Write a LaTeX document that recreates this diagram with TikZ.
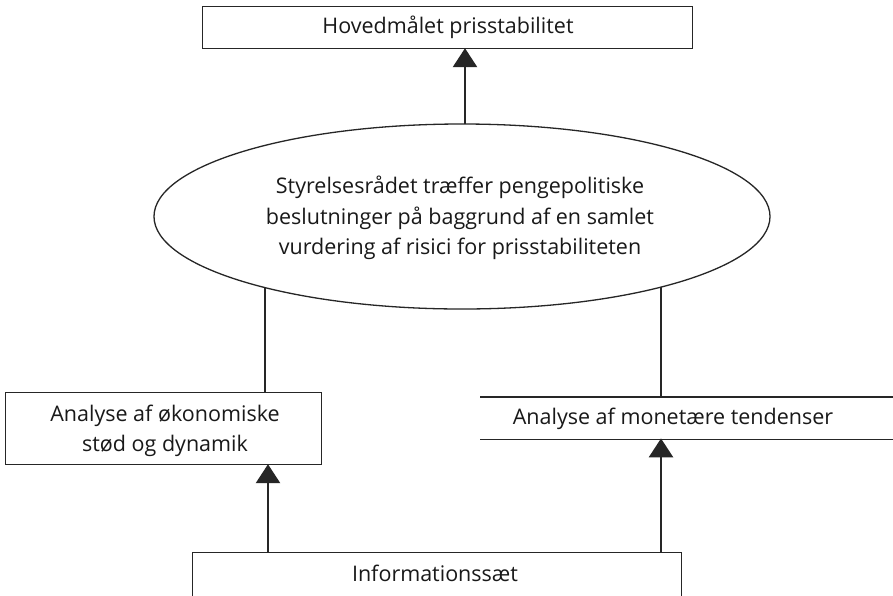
\documentclass[tikz,border=0pt]{standalone}
\usepackage{fontspec}
\setmainfont{Open Sans}
\usetikzlibrary{arrows.meta}
\begin{document}
\begin{tikzpicture}[x=1pt,y=-1pt,
  every node/.style={font=\fontsize{21.5}{30.5}\selectfont, text=black!90, inner sep=0pt},
  boxstyle/.style={draw=black!85, line width=1.2pt, anchor=north west},
  thin/.style={draw=black!85, line width=1.3pt},
  thickarrow/.style={draw=black!85, line width=2.8pt, -{Triangle[width=24pt,length=19pt]}, shorten >=-1pt}]
\clip (0,0) rectangle (893,595);
\fill[white] (0,0) rectangle (893,595);
% top box
\node[boxstyle, minimum width=490pt, minimum height=42pt] (top) at (202,6) {};
\node (toptext) at (448,27) {Hovedmålet prisstabilitet};
% ellipse
\draw[thin] (462,216.5) ellipse [x radius=308, y radius=92.5];
\node[align=center, minimum width=616pt, minimum height=185pt] (ell) at (460,218)
  {Styrelsesrådet træffer pengepolitiske\\beslutninger på baggrund af en samlet\\vurdering af risici for prisstabiliteten};
% left box
\node[boxstyle, minimum width=316pt, minimum height=72pt] (lbox) at (5,392) {};
\node[align=center] (ltext) at (165,431) {Analyse af økonomiske\\stød og dynamik};
% right box (open sides)
\node[minimum width=413pt, minimum height=42pt, anchor=north west] (rbox) at (480,397) {};
\node (rtext) at (673,419) {Analyse af monetære tendenser};
\draw[thin] (rbox.north west) -- (rbox.north east);
\draw[thin] (rbox.south west) -- (rbox.south east);
% bottom box
\node[boxstyle, minimum width=489pt, minimum height=80pt] (bot) at (192,552) {};
\node (btext) at (435,573) {Informationssæt};
% connector coordinates on the ellipse boundary
\coordinate (el) at (265,287);
\coordinate (er) at (661,287);
\coordinate (et) at (465,124);
\coordinate (bl) at (268,552);
\coordinate (br) at (661,552);
% connectors
\draw[thickarrow] (et) -- (top.south -| et);
\draw[thin] (el) -- (lbox.north -| el);
\draw[thin] (er) -- (rbox.north -| er);
\draw[thickarrow] (bl) -- (lbox.south -| bl);
\draw[thickarrow] (br) -- (rbox.south -| br);
\end{tikzpicture}
\end{document}
